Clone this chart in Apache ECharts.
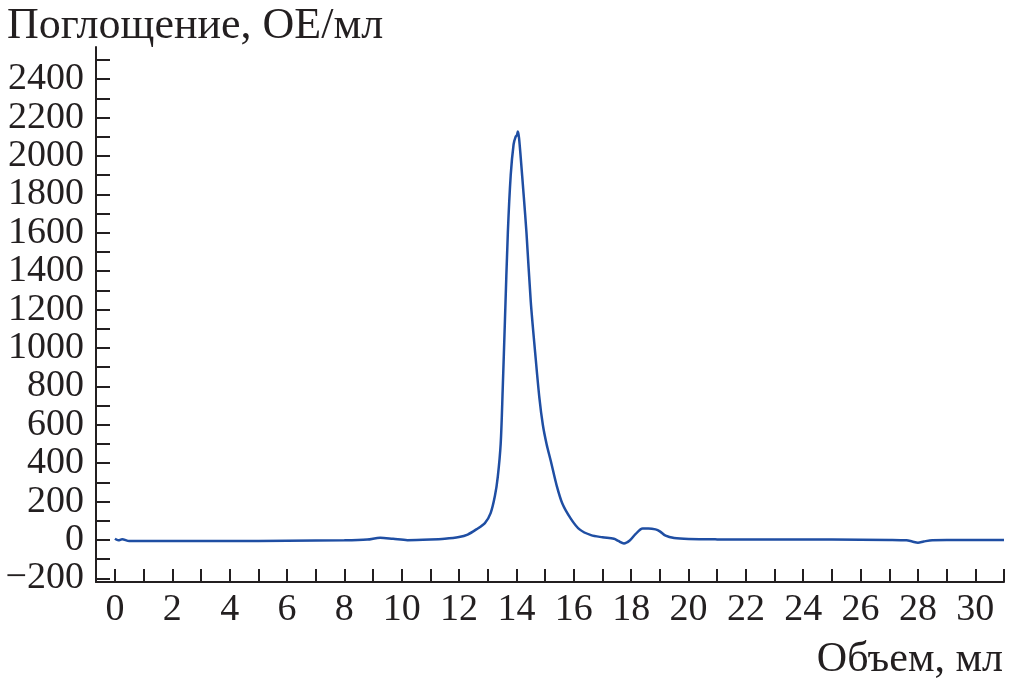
<!DOCTYPE html>
<html>
<head>
<meta charset="utf-8">
<script src="https://cdn.jsdelivr.net/npm/echarts@6/dist/echarts.min.js"></script>
<style>
    html, body { margin: 0; padding: 0; background: #fff; }
    #chart { width: 1010px; height: 683px; }
</style>
</head>
<body>
<div id="chart"></div>
<script>
// объем элюции, мл
const volume = [0, 0.12, 0.25, 0.5, 0.8, 2, 4, 6, 8, 8.8, 9.25, 9.7, 10.2, 11, 11.5, 12,
    12.3, 12.6, 12.9, 13.1, 13.25, 13.35, 13.45, 13.52, 13.6, 13.7, 13.8, 13.9, 13.97,
    14.02, 14.05, 14.09, 14.15, 14.25, 14.35, 14.5, 14.65, 14.8, 14.92, 15.05, 15.2,
    15.4, 15.6, 15.9, 16.2, 16.6, 17.0, 17.4, 17.55, 17.75, 17.95, 18.15, 18.4, 18.6,
    18.85, 19.0, 19.2, 19.5, 20, 21, 23, 25, 27, 27.6, 27.8, 28.0, 28.2, 28.5, 29, 31];
// поглощение, ОЕ/мл
const absorbance = [6, -2, 4, -6, -6, -6, -6, -4, -2, 2, 12, 6, -1, 2, 6, 15,
    28, 55, 88, 140, 230, 330, 500, 780, 1150, 1600, 1900, 2060, 2100,
    2110, 2128, 2095, 1990, 1800, 1600, 1240, 980, 740, 600, 500, 410,
    285, 190, 110, 55, 25, 14, 6, -5, -18, -3, 30, 60, 60,
    55, 45, 22, 10, 5, 3, 2, 2, 0, -2, -8, -14, -8, -1, 0, 0];

const xTicks = [];
for (let i = 0; i <= 31; i++) xTicks.push(i);
const xLabels = [0, 2, 4, 6, 8, 10, 12, 14, 16, 18, 20, 22, 24, 26, 28, 30];
const yTicks = [];
for (let v = -200; v <= 2500; v += 100) yTicks.push(v);
const yLabels = [-200, 0, 200, 400, 600, 800, 1000, 1200, 1400, 1600, 1800, 2000, 2200, 2400];

const font = '"Liberation Serif", "DejaVu Serif", serif';
const axisColor = '#231f20';

const myChart = echarts.init(document.getElementById('chart'));

const option = {
    animation: false,
    backgroundColor: '#fff',
    title: [{
        text: 'Поглощение, ОЕ/мл',
        left: 2,
        top: -1,
        textStyle: { fontFamily: font, fontSize: 44, fontWeight: 'normal', color: axisColor }
    }, {
        text: 'Объем, мл',
        right: 2,
        top: 634,
        textStyle: { fontFamily: font, fontSize: 42, fontWeight: 'normal', color: axisColor }
    }],
    grid: {
        left: 96,
        right: 6,
        top: 47,
        bottom: 101
    },
    xAxis: {
        type: 'value',
        min: -0.66,
        max: 31,
        splitLine: { show: false },
        axisLine: { onZero: false, lineStyle: { color: axisColor, width: 2 } },
        axisTick: {
            inside: true,
            length: 13,
            customValues: xTicks,
            lineStyle: { color: axisColor, width: 2 }
        },
        axisLabel: {
            customValues: xLabels,
            margin: 9,
            fontFamily: font,
            fontSize: 38,
            color: axisColor
        }
    },
    yAxis: {
        type: 'value',
        min: -219,
        max: 2568,
        splitLine: { show: false },
        axisLine: { show: true, onZero: false, lineStyle: { color: axisColor, width: 2 } },
        axisTick: {
            show: true,
            inside: true,
            length: 14,
            customValues: yTicks,
            lineStyle: { color: axisColor, width: 2 }
        },
        axisLabel: {
            customValues: yLabels,
            margin: 12,
            fontFamily: font,
            fontSize: 38,
            color: axisColor,
            formatter: function (v) {
                return String(v).replace('-', '\u2212');
            }
        }
    },
    series: [{
        type: 'line',
        data: volume.map((v, i) => [v, absorbance[i]]),
        smooth: 0.3,
        showSymbol: false,
        lineStyle: { color: '#1f4ea3', width: 2.5 }
    }]
};

myChart.setOption(option);
</script>
</body>
</html>
